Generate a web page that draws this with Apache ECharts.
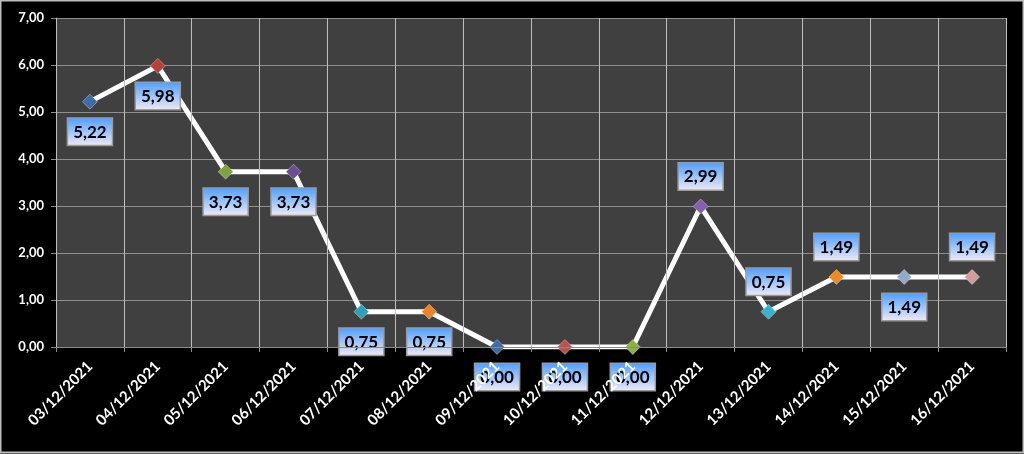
<!DOCTYPE html>
<html><head><meta charset="utf-8">
<script src="https://cdn.jsdelivr.net/npm/echarts@6/dist/echarts.min.js"></script>
<style>html,body{margin:0;padding:0;background:#000;}#c{width:1024px;height:454px;}</style>
</head><body><div id="c"></div>
<script>
const categories = ['03/12/2021','04/12/2021','05/12/2021','06/12/2021','07/12/2021','08/12/2021','09/12/2021','10/12/2021','11/12/2021','12/12/2021','13/12/2021','14/12/2021','15/12/2021','16/12/2021'];
const values = [5.22, 5.98, 3.73, 3.73, 0.75, 0.75, 0.00, 0.00, 0.00, 2.99, 0.75, 1.49, 1.49, 1.49];
const yTicks = [0,1,2,3,4,5,6,7];

// styling (kept separate from data)
const markerColors = ['#3E6DA8','#B8403C','#7FA043','#6B4F93','#2FA0BB','#EA8426','#3E6DA8','#C0504D','#8DB33F','#8460B0','#37B2D0','#EF8A22','#95A9C9','#D29C9A'];
const labelPos = ['bottom','bottom','bottom','bottom','bottom','bottom','bottom','bottom','bottom','top','top','top','bottom','top'];

const fmt = v => v.toFixed(2).replace('.', ',');
const chart = echarts.init(document.getElementById('c'));
const labelBg = new echarts.graphic.LinearGradient(0,0,0,1,[
  {offset:0, color:'#4E9BFF'},{offset:0.45,color:'#92C2FF'},{offset:1,color:'#F4EAF4'}]);

chart.setOption({
  backgroundColor:'#000',
  animation:false,
  graphic:[{type:'rect',shape:{x:0.5,y:0.5,width:1023,height:452},style:{fill:'none',stroke:'#bdbdbd',lineWidth:2},z:100,silent:true}],
  grid:{left:56,right:18,top:18,bottom:107,show:true,backgroundColor:'#404040',borderWidth:0},
  xAxis:{type:'category',data:categories,boundaryGap:true,z:10,
    axisLine:{lineStyle:{color:'#8a8a8a',width:1}},
    axisTick:{show:true,length:5,lineStyle:{color:'#8a8a8a'}},
    splitLine:{show:true,lineStyle:{color:'#bfbfbf',width:1}},
    axisLabel:{rotate:45,color:'#fff',fontWeight:'bold',fontSize:15,fontFamily:'Lato',margin:17,interval:0}},
  yAxis:{type:'value',min:yTicks[0],max:yTicks[yTicks.length-1],interval:1,
    axisLine:{show:true,lineStyle:{color:'#8a8a8a'}},
    axisTick:{show:true,length:5,lineStyle:{color:'#8a8a8a'}},
    splitLine:{lineStyle:{color:'#8f8f8f',width:1}},
    axisLabel:{color:'#fff',fontWeight:'bold',fontSize:13,fontFamily:'Lato',margin:12,formatter:v=>fmt(v)}},
  series:[{type:'line',
    data:values.map((v,i)=>({value:v,
      itemStyle:{color:markerColors[i],borderColor:'rgba(255,255,255,0.35)',borderWidth:1},
      label:{position:labelPos[i]}})),
    symbol:'diamond',symbolSize:15,showAllSymbol:true,
    lineStyle:{color:'#fff',width:5},
    label:{show:true,formatter:p=>fmt(p.value),color:'#000',fontWeight:'bold',fontSize:17,fontFamily:'Lato',
      backgroundColor:labelBg,borderColor:'#9a9a9a',borderWidth:1.5,padding:[5,5,4,5],distance:9}
  }]
});
</script></body></html>
